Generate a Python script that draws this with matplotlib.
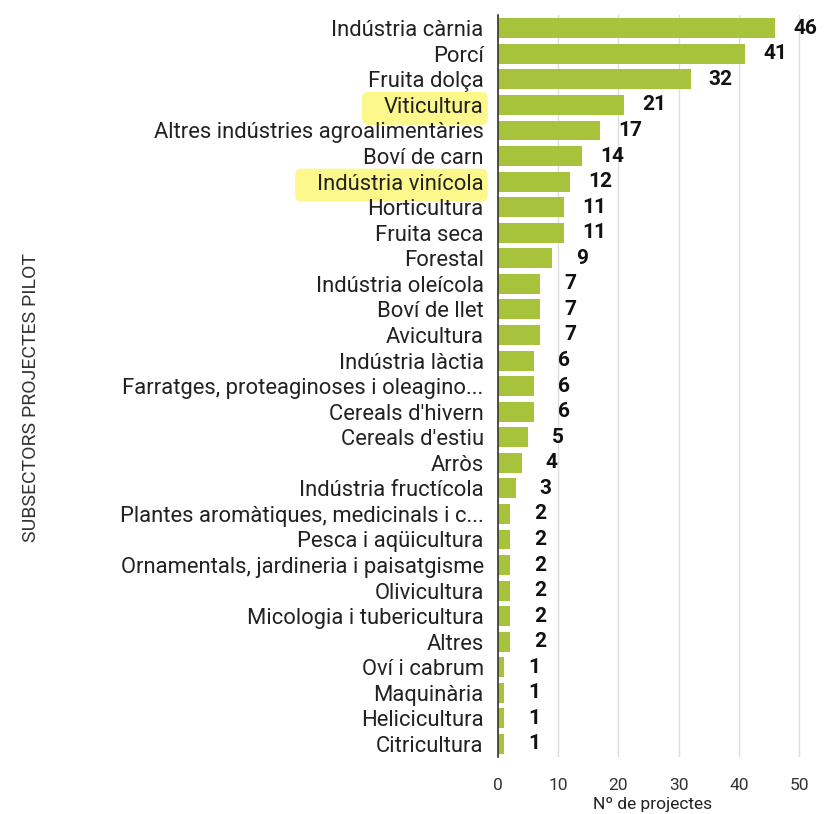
import matplotlib
matplotlib.use("Agg")
import matplotlib.pyplot as plt
from matplotlib.patches import FancyBboxPatch

categories = ["Indústria càrnia", "Porcí", "Fruita dolça", "Viticultura",
              "Altres indústries agroalimentàries", "Boví de carn", "Indústria vinícola",
              "Horticultura", "Fruita seca", "Forestal", "Indústria oleícola", "Boví de llet",
              "Avicultura", "Indústria làctia", "Farratges, proteaginoses i oleagino...",
              "Cereals d'hivern", "Cereals d'estiu", "Arròs", "Indústria fructícola",
              "Plantes aromàtiques, medicinals i c...", "Pesca i aqüicultura",
              "Ornamentals, jardineria i paisatgisme", "Olivicultura",
              "Micologia i tubericultura", "Altres", "Oví i cabrum", "Maquinària",
              "Helicicultura", "Citricultura"]
values = [46, 41, 32, 21, 17, 14, 12, 11, 11, 9, 7, 7, 7, 6, 6, 6, 5, 4, 3,
          2, 2, 2, 2, 2, 2, 1, 1, 1, 1]
highlighted = ["Viticultura", "Indústria vinícola"]
xticks = [0, 10, 20, 30, 40, 50]

plt.rcParams['font.family'] = ['Roboto', 'DejaVu Sans']

fig = plt.figure(figsize=(8.28, 8.14), dpi=100)
ax = fig.add_axes([0.601, 0.0703, 0.375, 0.9107])

y = list(range(len(categories)))
ax.barh(y, values, height=0.78, color="#a6c33b", zorder=3)
ax.set_ylim(len(categories) - 0.5, -0.5)
ax.set_xlim(0, 51.5)
ax.set_yticks(y)
ax.set_yticklabels(categories, fontsize=15.8, color="#222222")
ax.tick_params(axis='y', length=0, pad=10)
ax.set_xticks(xticks)
ax.set_xticklabels([str(t) for t in xticks], fontsize=12.5, color="#333333")
ax.tick_params(axis='x', length=0, pad=15)
ax.grid(axis='x', color="#dddddd", linewidth=1, zorder=0)
for s in ['top', 'right', 'bottom']:
    ax.spines[s].set_visible(False)
ax.spines['left'].set_color("#333333")
ax.spines['left'].set_linewidth(1.2)
ax.spines['left'].set_zorder(4)

for yi, v in zip(y, values):
    ax.text(v + 5.0, yi, str(v), va='center', ha='center', fontsize=15,
            fontweight='bold', color="#111111")

fig.canvas.draw()
for lbl in ax.get_yticklabels():
    if lbl.get_text() in highlighted:
        bb = lbl.get_window_extent()
        h = fig.bbox.height
        x0 = bb.x0 - 22
        y0 = bb.y0 - 7
        w = bb.x1 - x0 + 4
        hh = bb.height + 12
        rect = FancyBboxPatch((x0 / fig.bbox.width, y0 / h), w / fig.bbox.width, hh / h,
                              boxstyle="round,pad=0,rounding_size=0.008",
                              transform=fig.transFigure, facecolor="#fcf88c",
                              edgecolor="none", zorder=-1)
        fig.patches.append(rect)

ax.set_xlabel("Nº de projectes", fontsize=12.5, color="#222222", labelpad=3)
fig.text(0.037, 0.511, "SUBSECTORS PROJECTES PILOT", rotation=90, ha='center',
         va='center', fontsize=14, color="#333333")

fig.savefig("out.png", dpi=100)
